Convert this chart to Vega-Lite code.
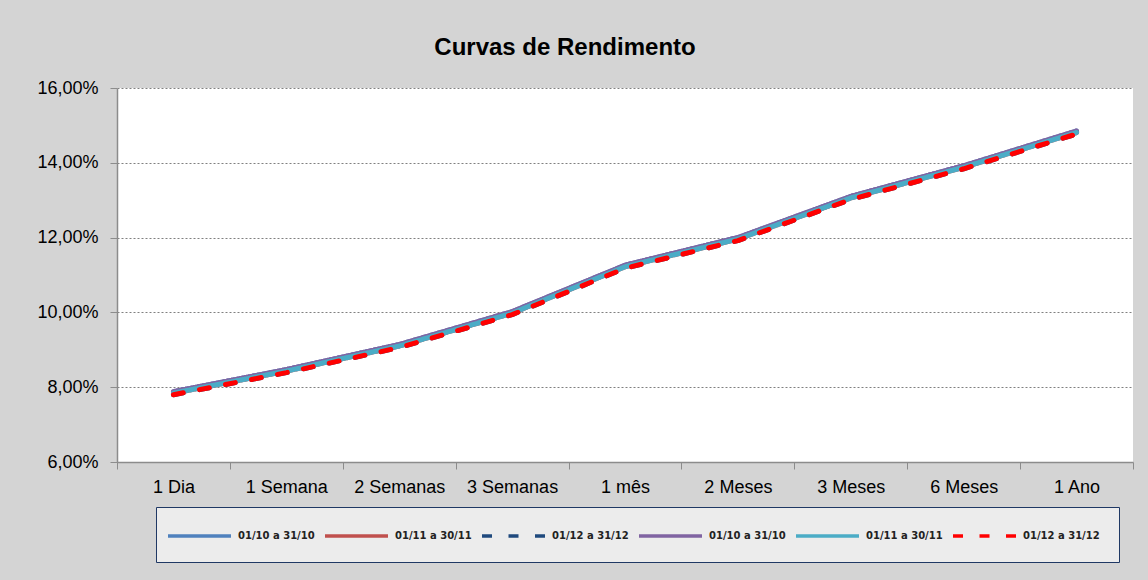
{
  "$schema": "https://vega.github.io/schema/vega-lite/v6.json",
  "width": 1016,
  "height": 374,
  "autosize": {"type": "none"},
  "padding": {"left": 117, "top": 88, "right": 15, "bottom": 118},
  "background": "#d4d4d4",
  "title": {"text": "Curvas de Rendimento", "fontSize": 24, "font": "Liberation Sans", "fontWeight": "bold", "color": "#000000", "anchor": "middle", "dx": -60, "offset": 19},
  "data": {"values": [
    {"serie": "S1 01/10 a 31/10", "prazo": "1 Dia", "valor": 7.88},
    {"serie": "S1 01/10 a 31/10", "prazo": "1 Semana", "valor": 8.47},
    {"serie": "S1 01/10 a 31/10", "prazo": "2 Semanas", "valor": 9.14},
    {"serie": "S1 01/10 a 31/10", "prazo": "3 Semanas", "valor": 10.02},
    {"serie": "S1 01/10 a 31/10", "prazo": "1 mês", "valor": 11.26},
    {"serie": "S1 01/10 a 31/10", "prazo": "2 Meses", "valor": 12.00},
    {"serie": "S1 01/10 a 31/10", "prazo": "3 Meses", "valor": 13.10},
    {"serie": "S1 01/10 a 31/10", "prazo": "6 Meses", "valor": 13.92},
    {"serie": "S1 01/10 a 31/10", "prazo": "1 Ano", "valor": 14.85},
    {"serie": "S2 01/11 a 30/11", "prazo": "1 Dia", "valor": 7.84},
    {"serie": "S2 01/11 a 30/11", "prazo": "1 Semana", "valor": 8.43},
    {"serie": "S2 01/11 a 30/11", "prazo": "2 Semanas", "valor": 9.10},
    {"serie": "S2 01/11 a 30/11", "prazo": "3 Semanas", "valor": 9.98},
    {"serie": "S2 01/11 a 30/11", "prazo": "1 mês", "valor": 11.22},
    {"serie": "S2 01/11 a 30/11", "prazo": "2 Meses", "valor": 11.96},
    {"serie": "S2 01/11 a 30/11", "prazo": "3 Meses", "valor": 13.06},
    {"serie": "S2 01/11 a 30/11", "prazo": "6 Meses", "valor": 13.88},
    {"serie": "S2 01/11 a 30/11", "prazo": "1 Ano", "valor": 14.81},
    {"serie": "S3 01/12 a 31/12", "prazo": "1 Dia", "valor": 7.80},
    {"serie": "S3 01/12 a 31/12", "prazo": "1 Semana", "valor": 8.39},
    {"serie": "S3 01/12 a 31/12", "prazo": "2 Semanas", "valor": 9.06},
    {"serie": "S3 01/12 a 31/12", "prazo": "3 Semanas", "valor": 9.94},
    {"serie": "S3 01/12 a 31/12", "prazo": "1 mês", "valor": 11.18},
    {"serie": "S3 01/12 a 31/12", "prazo": "2 Meses", "valor": 11.92},
    {"serie": "S3 01/12 a 31/12", "prazo": "3 Meses", "valor": 13.02},
    {"serie": "S3 01/12 a 31/12", "prazo": "6 Meses", "valor": 13.84},
    {"serie": "S3 01/12 a 31/12", "prazo": "1 Ano", "valor": 14.77},
    {"serie": "S4 01/10 a 31/10", "prazo": "1 Dia", "valor": 7.88},
    {"serie": "S4 01/10 a 31/10", "prazo": "1 Semana", "valor": 8.47},
    {"serie": "S4 01/10 a 31/10", "prazo": "2 Semanas", "valor": 9.14},
    {"serie": "S4 01/10 a 31/10", "prazo": "3 Semanas", "valor": 10.02},
    {"serie": "S4 01/10 a 31/10", "prazo": "1 mês", "valor": 11.26},
    {"serie": "S4 01/10 a 31/10", "prazo": "2 Meses", "valor": 12.00},
    {"serie": "S4 01/10 a 31/10", "prazo": "3 Meses", "valor": 13.10},
    {"serie": "S4 01/10 a 31/10", "prazo": "6 Meses", "valor": 13.92},
    {"serie": "S4 01/10 a 31/10", "prazo": "1 Ano", "valor": 14.85},
    {"serie": "S5 01/11 a 30/11", "prazo": "1 Dia", "valor": 7.84},
    {"serie": "S5 01/11 a 30/11", "prazo": "1 Semana", "valor": 8.43},
    {"serie": "S5 01/11 a 30/11", "prazo": "2 Semanas", "valor": 9.10},
    {"serie": "S5 01/11 a 30/11", "prazo": "3 Semanas", "valor": 9.98},
    {"serie": "S5 01/11 a 30/11", "prazo": "1 mês", "valor": 11.22},
    {"serie": "S5 01/11 a 30/11", "prazo": "2 Meses", "valor": 11.96},
    {"serie": "S5 01/11 a 30/11", "prazo": "3 Meses", "valor": 13.06},
    {"serie": "S5 01/11 a 30/11", "prazo": "6 Meses", "valor": 13.88},
    {"serie": "S5 01/11 a 30/11", "prazo": "1 Ano", "valor": 14.81},
    {"serie": "S6 01/12 a 31/12", "prazo": "1 Dia", "valor": 7.80},
    {"serie": "S6 01/12 a 31/12", "prazo": "1 Semana", "valor": 8.39},
    {"serie": "S6 01/12 a 31/12", "prazo": "2 Semanas", "valor": 9.06},
    {"serie": "S6 01/12 a 31/12", "prazo": "3 Semanas", "valor": 9.94},
    {"serie": "S6 01/12 a 31/12", "prazo": "1 mês", "valor": 11.18},
    {"serie": "S6 01/12 a 31/12", "prazo": "2 Meses", "valor": 11.92},
    {"serie": "S6 01/12 a 31/12", "prazo": "3 Meses", "valor": 13.02},
    {"serie": "S6 01/12 a 31/12", "prazo": "6 Meses", "valor": 13.84},
    {"serie": "S6 01/12 a 31/12", "prazo": "1 Ano", "valor": 14.77}
  ]},
  "mark": {"type": "line", "strokeWidth": 5, "strokeCap": "round", "strokeJoin": "round"},
  "encoding": {
    "x": {
      "field": "prazo", "type": "nominal",
      "sort": ["1 Dia", "1 Semana", "2 Semanas", "3 Semanas", "1 mês", "2 Meses", "3 Meses", "6 Meses", "1 Ano"],
      "scale": {"type": "band", "paddingInner": 0, "paddingOuter": 0},
      "bandPosition": 0.5,
      "axis": {"title": null, "labelAngle": 0, "tickBand": "extent", "labelFont": "Liberation Sans", "labelFontSize": 18, "labelColor": "#000000", "domainColor": "#8c8c8c", "domainWidth": 1.5, "tickColor": "#8c8c8c", "tickSize": 7, "labelPadding": 9, "grid": false}
    },
    "y": {
      "field": "valor", "type": "quantitative",
      "scale": {"domain": [6, 16], "nice": false, "zero": false},
      "axis": {"title": null, "values": [6, 8, 10, 12, 14, 16], "labelExpr": "replace(format(datum.value, '.2f'), '.', ',') + '%'", "labelFont": "Liberation Sans", "labelFontSize": 18, "labelColor": "#000000", "domainColor": "#8c8c8c", "domainWidth": 1.5, "tickColor": "#8c8c8c", "tickSize": 7, "labelPadding": 12, "grid": true, "gridColor": "#808080", "gridDash": [2, 2], "gridWidth": 1}
    },
    "color": {
      "field": "serie", "type": "nominal",
      "scale": {"domain": ["S1 01/10 a 31/10", "S2 01/11 a 30/11", "S3 01/12 a 31/12", "S4 01/10 a 31/10", "S5 01/11 a 30/11", "S6 01/12 a 31/12"], "range": ["#4f81bd", "#c0504d", "#1f497d", "#8064a2", "#4bacc6", "#ff0000"]},
      "legend": {"title": null, "orient": "none", "legendX": 39, "legendY": 419, "direction": "horizontal", "columns": 6, "symbolType": "M-4,0H4", "symbolSize": 248, "symbolOffset": 14.5, "symbolStrokeWidth": 3.5, "labelFont": "DejaVu Sans", "labelFontSize": 10, "labelFontWeight": "bold", "labelColor": "#222222", "labelExpr": "substring(datum.label, 3)", "strokeColor": "#1f3864", "fillColor": "#ececec", "padding": 19, "columnPadding": 3, "labelOffset": 28.5, "labelLimit": 200}
    },
    "strokeDash": {
      "field": "serie", "type": "nominal",
      "scale": {"domain": ["S1 01/10 a 31/10", "S2 01/11 a 30/11", "S3 01/12 a 31/12", "S4 01/10 a 31/10", "S5 01/11 a 30/11", "S6 01/12 a 31/12"], "range": [[1, 0], [1, 0], [10, 16.5], [1, 0], [1, 0], [10, 16.5]]}
    }
  },
  "config": {"view": {"stroke": null, "fill": "#ffffff"}}
}
